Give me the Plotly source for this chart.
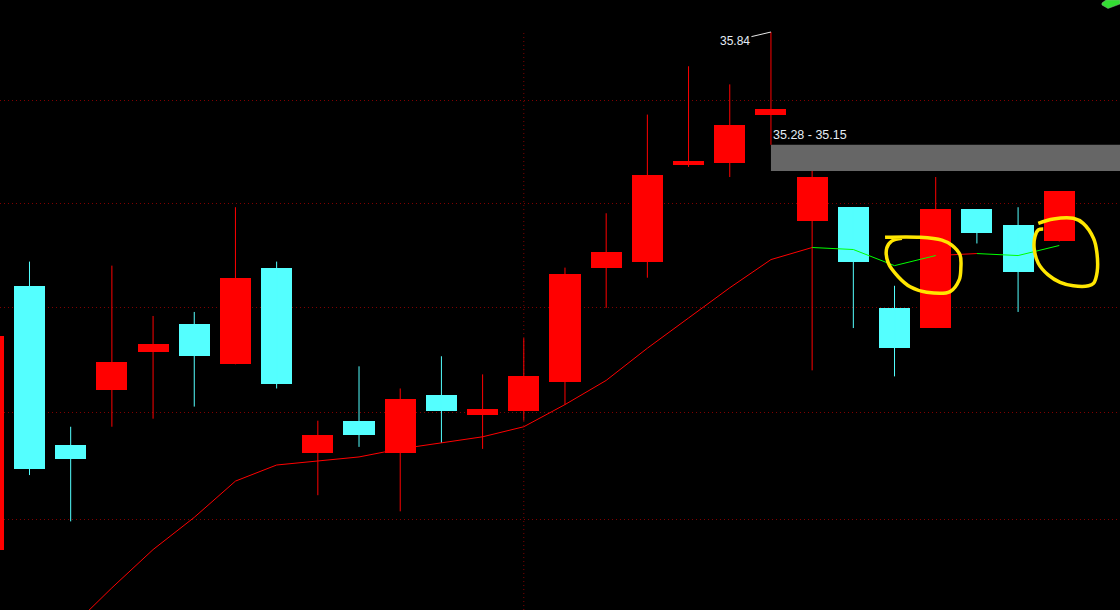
import plotly.graph_objects as go

# ---------------- data ----------------
idx = list(range(27))
opens  = [33.27, 34.58, 33.79, 34.06, 34.25, 34.39, 34.19, 34.67, 33.75, 33.91,
          33.75, 34.04, 33.94, 33.96, 34.10, 34.67, 34.70, 35.18, 35.19, 35.43,
          34.90, 34.97, 34.47, 34.37, 34.96, 34.88, 34.80]
highs  = [34.36, 34.70, 33.88, 34.68, 34.43, 34.45, 34.97, 34.70, 33.91, 34.18,
          34.07, 34.23, 34.14, 34.32, 34.67, 34.94, 35.43, 35.67, 35.58, 35.84,
          35.15, 34.97, 34.58, 35.12, 34.96, 34.97, 35.05]
lows   = [33.24, 33.64, 33.41, 33.88, 33.92, 33.98, 34.19, 34.07, 33.54, 33.78,
          33.46, 33.80, 33.77, 33.91, 33.99, 34.47, 34.62, 35.17, 35.12, 35.28,
          34.16, 34.37, 34.13, 34.37, 34.79, 34.45, 34.80]
closes = [34.33, 33.67, 33.72, 34.20, 34.29, 34.23, 34.62, 34.09, 33.84, 33.84,
          34.02, 33.96, 33.97, 34.13, 34.64, 34.75, 35.13, 35.20, 35.38, 35.46,
          35.12, 34.70, 34.27, 34.96, 34.84, 34.65, 35.05]
ma     = [None, None, 32.88, 33.08, 33.27, 33.43, 33.61, 33.69, 33.71, 33.73,
          33.77, 33.80, 33.83, 33.88, 33.99, 34.11, 34.27, 34.42, 34.57, 34.71,
          34.77, 34.76, 34.68, 34.73, 34.74, 34.73, 34.78]
grid_prices = [35.502, 34.990, 34.473, 33.952, 33.421]

# hand-drawn highlight loops (index, price)
loop1_x = [21.77, 22.62, 23.15, 23.39, 23.59, 23.61, 23.57, 23.35, 22.78, 22.38,
           22.09, 21.85, 21.81, 21.93, 22.18]
loop1_y = [34.821, 34.821, 34.807, 34.782, 34.733, 34.667, 34.609, 34.551, 34.548,
           34.575, 34.625, 34.692, 34.766, 34.802, 34.816]
loop2_x = [25.49, 25.86, 26.34, 26.58, 26.83, 26.91, 26.92, 26.83, 26.71, 26.34,
           26.02, 25.73, 25.49, 25.39, 25.41, 25.49, 25.61]
loop2_y = [34.890, 34.912, 34.915, 34.890, 34.816, 34.749, 34.650, 34.592, 34.580,
           34.580, 34.597, 34.634, 34.692, 34.766, 34.824, 34.857, 34.862]

# ---------------- styles ----------------
UP = "#FF0000"
DOWN = "#54FFFF"
GRID = "#800000"
x_range = [0.284, 27.474]
y_range = [32.970, 35.999]
ma_green_segments = {20, 21, 22, 24, 25}   # segment i -> i+1 drawn green

colors = [UP if c > o else DOWN for o, c in zip(opens, closes)]

fig = go.Figure()

# bodies
fig.add_trace(go.Bar(
    x=idx,
    y=[abs(c - o) for o, c in zip(opens, closes)],
    base=[min(o, c) for o, c in zip(opens, closes)],
    width=0.755,
    marker=dict(color=colors, line=dict(width=0)),
    hoverinfo="skip",
))

# wicks
for col in (UP, DOWN):
    wx, wy = [], []
    for i in idx:
        if colors[i] == col:
            wx += [i, i, None]
            wy += [lows[i], highs[i], None]
    fig.add_trace(go.Scatter(x=wx, y=wy, mode="lines",
                             line=dict(color=col, width=1), hoverinfo="skip"))

# moving average, coloured by segment
seg = {"#FF0000": ([], []), "#00FF00": ([], [])}
for i in range(len(idx) - 1):
    if ma[i] is None or ma[i + 1] is None:
        continue
    c = "#00FF00" if i in ma_green_segments else "#FF0000"
    seg[c][0].extend([idx[i], idx[i + 1], None])
    seg[c][1].extend([ma[i], ma[i + 1], None])
for c, (sx, sy) in seg.items():
    fig.add_trace(go.Scatter(x=sx, y=sy, mode="lines",
                             line=dict(color=c, width=1), hoverinfo="skip"))

# yellow hand-drawn loops
for lx, ly in ((loop1_x, loop1_y), (loop2_x, loop2_y)):
    fig.add_trace(go.Scatter(x=lx, y=ly, mode="lines",
                             line=dict(color="#FFE600", width=3.5, shape="spline"),
                             hoverinfo="skip"))

# gap band between the top candle's low and the next candle's high
top_i = highs.index(max(highs))
gap_hi = lows[top_i]
gap_lo = highs[top_i + 1]
fig.add_shape(type="rect", xref="x", yref="y",
              x0=top_i, x1=x_range[1], y0=gap_lo, y1=gap_hi,
              fillcolor="#666666", line=dict(width=0), layer="below")
fig.add_annotation(x=top_i, y=gap_hi + 0.05, xref="x", yref="y",
                   text=f"{gap_hi:.2f} - {gap_lo:.2f}", showarrow=False,
                   xanchor="left", yanchor="middle",
                   font=dict(family="Liberation Sans, Arial", size=12.5, color="#e4ecf4"))

# high label
fig.add_annotation(x=top_i, y=highs[top_i], xref="x", yref="y",
                   text=f"{highs[top_i]:.2f}", showarrow=True,
                   arrowhead=0, arrowwidth=1, arrowcolor="#e8e8e8",
                   ax=-36, ay=8.5, standoff=0,
                   font=dict(family="Liberation Sans, Arial", size=12, color="#e4ecf4"))

# vertical dotted line
fig.add_shape(type="line", xref="x", yref="y", x0=13, x1=13,
              y0=y_range[0], y1=highs[top_i] + 0.005,
              line=dict(color=GRID, width=1, dash="1px,3px"), layer="below")

# little green icon at the top right corner
fig.add_shape(type="path", xref="paper", yref="paper",
              path="M 0.9839 0.9951 L 0.9875 1.0 L 1.0 1.0 L 1.0 0.9934 L 0.9893 0.9861 L 0.9839 0.9918 Z",
              fillcolor="#33dd33", line=dict(color="#88aa88", width=0.5))

fig.update_layout(
    width=1120, height=610,
    margin=dict(l=0, r=0, t=0, b=0),
    paper_bgcolor="black", plot_bgcolor="black",
    showlegend=False, hovermode=False, bargap=0,
    xaxis=dict(range=x_range, showgrid=False, zeroline=False,
               showticklabels=False, ticks="", showline=False),
    yaxis=dict(range=y_range, tickvals=grid_prices, showticklabels=False,
               ticks="", zeroline=False, showline=False,
               gridcolor=GRID, gridwidth=1, griddash="1px,3px"),
)

fig.write_html(
    "out.html",
    config={"displayModeBar": False},
    post_script="document.body.style.margin='0';document.body.style.background='black';",
)
